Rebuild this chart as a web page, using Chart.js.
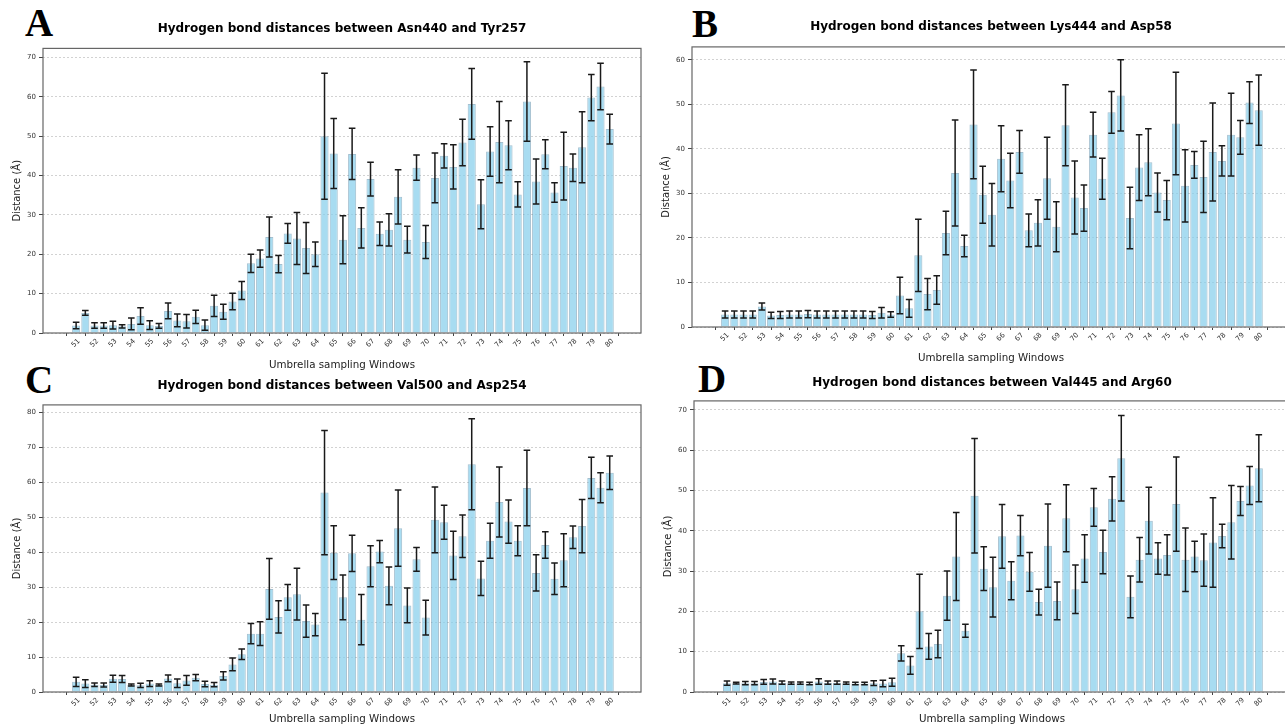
<!DOCTYPE html>
<html>
<head>
<meta charset="utf-8">
<script src="https://cdn.jsdelivr.net/npm/chart.js@4.4.1/dist/chart.umd.min.js"></script>
<style>
  body { margin: 0; width: 1285px; height: 726px; overflow: hidden; background: #fff; position: relative; }
  canvas { position: absolute; }
  .tag { position: absolute; font: bold 39px "Liberation Serif", "Times New Roman", serif; line-height: 1; color: #000; }
</style>
</head>
<body>
<div class="tag" style="left:25px;top:3px">A</div>
<div class="tag" style="left:692px;top:4px">B</div>
<div class="tag" style="left:25px;top:360px">C</div>
<div class="tag" style="left:698px;top:359px">D</div>
<canvas id="cA" width="645" height="372" style="left:0;top:0"></canvas>
<canvas id="cB" width="650" height="365" style="left:645px;top:0"></canvas>
<canvas id="cC" width="645" height="366" style="left:0;top:360px"></canvas>
<canvas id="cD" width="650" height="366" style="left:645px;top:360px"></canvas>
<script>
// umbrella sampling windows (bar positions)
const windows = [51, 51.5, 52, 52.5, 53, 53.5, 54, 54.5, 55, 55.5, 56, 56.5, 57, 57.5, 58, 58.5, 59, 59.5, 60, 60.5,
  61, 61.5, 62, 62.5, 63, 63.5, 64, 64.5, 65, 65.5, 66, 66.5, 67, 67.5, 68, 68.5, 69, 69.5, 70, 70.5,
  71, 71.5, 72, 72.5, 73, 73.5, 74, 74.5, 75, 75.5, 76, 76.5, 77, 77.5, 78, 78.5, 79, 79.5, 80];
const tickLabels = [51, 52, 53, 54, 55, 56, 57, 58, 59, 60, 61, 62, 63, 64, 65, 66, 67, 68, 69, 70,
  71, 72, 73, 74, 75, 76, 77, 78, 79, 80];

// A: Asn440 - Tyr257
const aMean = [1.9, 5.1, 1.9, 1.9, 2.0, 1.7, 2.3, 4.3, 2.0, 1.8, 5.6, 3.2, 3.0, 4.1, 2.0, 6.9, 5.4, 8.0, 10.8, 17.7,
  18.9, 24.4, 17.5, 25.3, 24.0, 21.6, 20.0, 50.0, 45.6, 23.7, 45.5, 26.7, 39.1, 25.2, 26.2, 34.6, 23.7, 42.0, 23.1, 39.4,
  45.0, 42.2, 48.4, 58.2, 32.7, 46.1, 48.5, 47.7, 35.2, 58.8, 38.5, 45.4, 35.7, 42.4, 42.0, 47.2, 59.8, 62.6, 51.8];
const aErr = [0.8, 0.6, 0.7, 0.7, 1.0, 0.4, 1.5, 2.1, 1.1, 0.6, 2.0, 1.6, 1.7, 1.7, 1.3, 2.7, 1.9, 2.1, 2.3, 2.3,
  2.2, 5.1, 2.2, 2.5, 6.6, 6.5, 3.1, 16.0, 8.9, 6.1, 6.5, 5.1, 4.3, 3.0, 4.1, 6.9, 3.4, 3.2, 4.2, 6.3,
  3.1, 5.6, 5.9, 9.0, 6.2, 6.3, 10.3, 6.2, 3.2, 10.1, 5.7, 3.7, 2.5, 8.6, 3.5, 9.0, 5.9, 5.9, 3.8];

// B: Lys444 - Asp58
const bMean = [2.8, 2.8, 2.8, 2.8, 4.6, 2.6, 2.7, 2.8, 2.8, 2.9, 2.8, 2.8, 2.8, 2.8, 2.8, 2.8, 2.7, 3.2, 2.8, 7.1,
  4.2, 16.1, 7.4, 8.3, 21.1, 34.6, 18.2, 45.5, 29.7, 25.2, 37.8, 32.9, 39.3, 21.7, 23.4, 33.4, 22.5, 45.3, 29.1, 26.7,
  43.2, 33.3, 48.2, 52.0, 24.5, 35.8, 37.0, 30.2, 28.5, 45.7, 31.7, 36.4, 33.7, 39.3, 37.3, 43.2, 42.6, 50.4, 48.7];
const bErr = [0.8, 0.8, 0.8, 0.8, 0.8, 0.7, 0.8, 0.8, 0.8, 0.8, 0.8, 0.8, 0.8, 0.8, 0.8, 0.8, 0.8, 1.2, 0.6, 4.1,
  2.0, 8.1, 3.5, 3.2, 4.9, 11.9, 2.4, 12.2, 6.4, 7.0, 7.4, 6.1, 4.8, 3.7, 5.2, 9.2, 5.6, 9.1, 8.2, 5.2,
  5.0, 4.6, 4.7, 8.0, 6.9, 7.4, 7.5, 4.4, 4.4, 11.5, 8.1, 3.0, 8.0, 11.0, 3.4, 9.3, 3.8, 4.7, 7.9];

// C: Val500 - Asp254
const cMean = [2.9, 2.4, 2.1, 2.0, 3.8, 3.7, 2.0, 1.9, 2.4, 2.0, 3.9, 2.5, 3.3, 4.1, 2.3, 2.1, 4.6, 7.9, 10.8, 16.7,
  16.7, 29.5, 21.5, 27.1, 28.0, 20.3, 19.3, 57.1, 39.9, 27.1, 39.7, 20.7, 36.0, 40.2, 30.4, 46.9, 24.8, 38.0, 21.3, 49.3,
  48.6, 39.1, 44.6, 65.2, 32.5, 43.3, 54.4, 48.8, 43.3, 58.4, 34.1, 42.1, 32.4, 37.7, 44.3, 47.5, 61.3, 58.5, 62.8];
const cErr = [1.3, 1.1, 0.5, 0.6, 1.0, 1.0, 0.3, 0.6, 0.8, 0.3, 1.0, 1.2, 1.4, 0.9, 0.8, 0.6, 1.2, 1.8, 1.5, 2.9,
  3.4, 8.7, 4.6, 3.7, 7.4, 4.6, 3.2, 17.8, 7.7, 6.4, 5.2, 7.2, 5.9, 3.2, 5.4, 10.9, 5.0, 3.4, 5.0, 9.4,
  4.9, 6.9, 6.1, 13.0, 4.9, 5.0, 10.0, 6.2, 4.3, 10.8, 5.2, 3.8, 4.5, 7.6, 3.2, 7.6, 5.9, 4.3, 4.8];

// D: Val445 - Arg60
const dMean = [2.2, 2.2, 2.2, 2.2, 2.5, 2.6, 2.3, 2.2, 2.2, 2.1, 2.6, 2.3, 2.3, 2.2, 2.1, 2.1, 2.2, 2.1, 2.4, 9.6,
  6.6, 20.0, 11.3, 11.9, 23.9, 33.6, 15.2, 48.7, 30.6, 26.0, 38.6, 27.6, 38.8, 29.8, 22.3, 36.3, 22.6, 43.1, 25.5, 33.1,
  45.8, 34.7, 47.9, 58.0, 23.6, 32.8, 42.5, 33.1, 34.0, 46.6, 32.8, 33.6, 32.7, 37.1, 38.7, 42.1, 47.4, 51.2, 55.5];
const dErr = [0.5, 0.2, 0.4, 0.4, 0.6, 0.6, 0.4, 0.3, 0.3, 0.3, 0.7, 0.4, 0.4, 0.3, 0.3, 0.3, 0.6, 0.8, 1.0, 1.9,
  2.2, 9.2, 3.2, 3.4, 6.1, 10.9, 1.6, 14.2, 5.4, 7.4, 7.9, 4.7, 5.0, 4.8, 3.2, 10.3, 4.7, 8.3, 6.0, 5.9,
  4.7, 5.4, 5.5, 10.6, 5.2, 5.5, 8.3, 3.9, 5.0, 11.7, 7.9, 3.8, 6.5, 11.1, 2.9, 9.1, 3.6, 4.7, 8.3];

const panels = [
  { id: 'cA', title: 'Hydrogen bond distances between Asn440 and Tyr257', mean: aMean, err: aErr, yMax: 72.3,
    padL: 5, yW: 38, padR: 4, xH: 39, tTop: 22, tBot: 12, xtPad: 2 },
  { id: 'cB', title: 'Hydrogen bond distances between Lys444 and Asp58', mean: bMean, err: bErr, yMax: 62.9,
    padL: 9, yW: 38, padR: 5, xH: 38, tTop: 20, tBot: 12.5, xtPad: 1 },
  { id: 'cC', title: 'Hydrogen bond distances between Val500 and Asp254', mean: cMean, err: cErr, yMax: 82.2,
    padL: 5, yW: 38, padR: 4, xH: 34, tTop: 18.5, tBot: 12, xtPad: 0 },
  { id: 'cD', title: 'Hydrogen bond distances between Val445 and Arg60', mean: dMean, err: dErr, yMax: 72.2,
    padL: 11, yW: 38, padR: 5, xH: 34, tTop: 15.5, tBot: 11, xtPad: 0 }
];

Chart.defaults.font.family = '"DejaVu Sans", sans-serif';
Chart.defaults.color = '#333';

// error bars drawn from the y scale
const errorBars = {
  id: 'errorBars',
  afterDatasetsDraw(chart) {
    const ds = chart.data.datasets[0];
    const y = chart.scales.y;
    const ctx = chart.ctx;
    ctx.save();
    ctx.strokeStyle = '#1a1a1a';
    ctx.lineWidth = 1.5;
    chart.getDatasetMeta(0).data.forEach((bar, i) => {
      const v = ds.data[i].y, e = ds.errors[i];
      const hi = y.getPixelForValue(v + e), lo = y.getPixelForValue(v - e);
      ctx.beginPath();
      ctx.moveTo(bar.x, hi); ctx.lineTo(bar.x, lo);
      ctx.moveTo(bar.x - 3.3, hi); ctx.lineTo(bar.x + 3.3, hi);
      ctx.moveTo(bar.x - 3.3, lo); ctx.lineTo(bar.x + 3.3, lo);
      ctx.stroke();
    });
    ctx.restore();
  }
};

// box around the plot area like matplotlib spines
const frame = {
  id: 'frame',
  afterDraw(chart) {
    const a = chart.chartArea, ctx = chart.ctx;
    ctx.save();
    ctx.strokeStyle = '#666';
    ctx.lineWidth = 1.2;
    ctx.strokeRect(a.left, a.top, a.right - a.left, a.bottom - a.top);
    ctx.restore();
  }
};

panels.forEach(p => {
  new Chart(document.getElementById(p.id), {
    type: 'bar',
    data: {
      datasets: [{
        data: windows.map((w, i) => ({ x: w, y: p.mean[i] })),
        errors: p.err,
        backgroundColor: 'rgba(135, 206, 235, 0.72)',
        borderColor: 'rgba(90, 140, 170, 0.55)',
        borderWidth: 1,
        barPercentage: 0.88,
        categoryPercentage: 1
      }]
    },
    options: {
      responsive: false,
      animation: false,
      layout: { padding: { left: p.padL, right: p.padR, top: 0, bottom: 0 } },
      plugins: {
        legend: { display: false },
        tooltip: { enabled: false },
        title: {
          display: true, text: p.title, fullSize: false, color: '#000',
          font: { size: 12, weight: 'bold' },
          padding: { top: p.tTop, bottom: p.tBot }
        }
      },
      scales: {
        x: {
          type: 'linear', min: 49.2, max: 81.7, offset: false,
          afterBuildTicks: s => { s.ticks = tickLabels.map(v => ({ value: v })); },
          afterFit: s => { s.height = p.xH; },
          ticks: { autoSkip: false, minRotation: 45, maxRotation: 45, font: { size: 7 }, color: '#333', labelOffset: 3, padding: 1 },
          grid: { drawOnChartArea: false, tickLength: 3, color: '#444' },
          border: { display: false },
          title: { display: true, text: 'Umbrella sampling Windows', font: { size: 10.3 }, color: '#222', padding: { top: p.xtPad, bottom: 0 } }
        },
        y: {
          min: 0, max: p.yMax,
          afterFit: s => { s.width = p.yW; },
          ticks: { stepSize: 10, includeBounds: false, font: { size: 7 }, color: '#333', padding: 3 },
          grid: { color: '#d2d2d2', tickLength: 4, tickColor: '#444', tickBorderDash: [] },
          border: { display: false, dash: [2, 2] },
          title: { display: true, text: 'Distance (Å)', font: { size: 10 }, color: '#222', padding: { top: 6, bottom: 0 } }
        }
      }
    },
    plugins: [errorBars, frame]
  });
});
</script>
</body>
</html>
